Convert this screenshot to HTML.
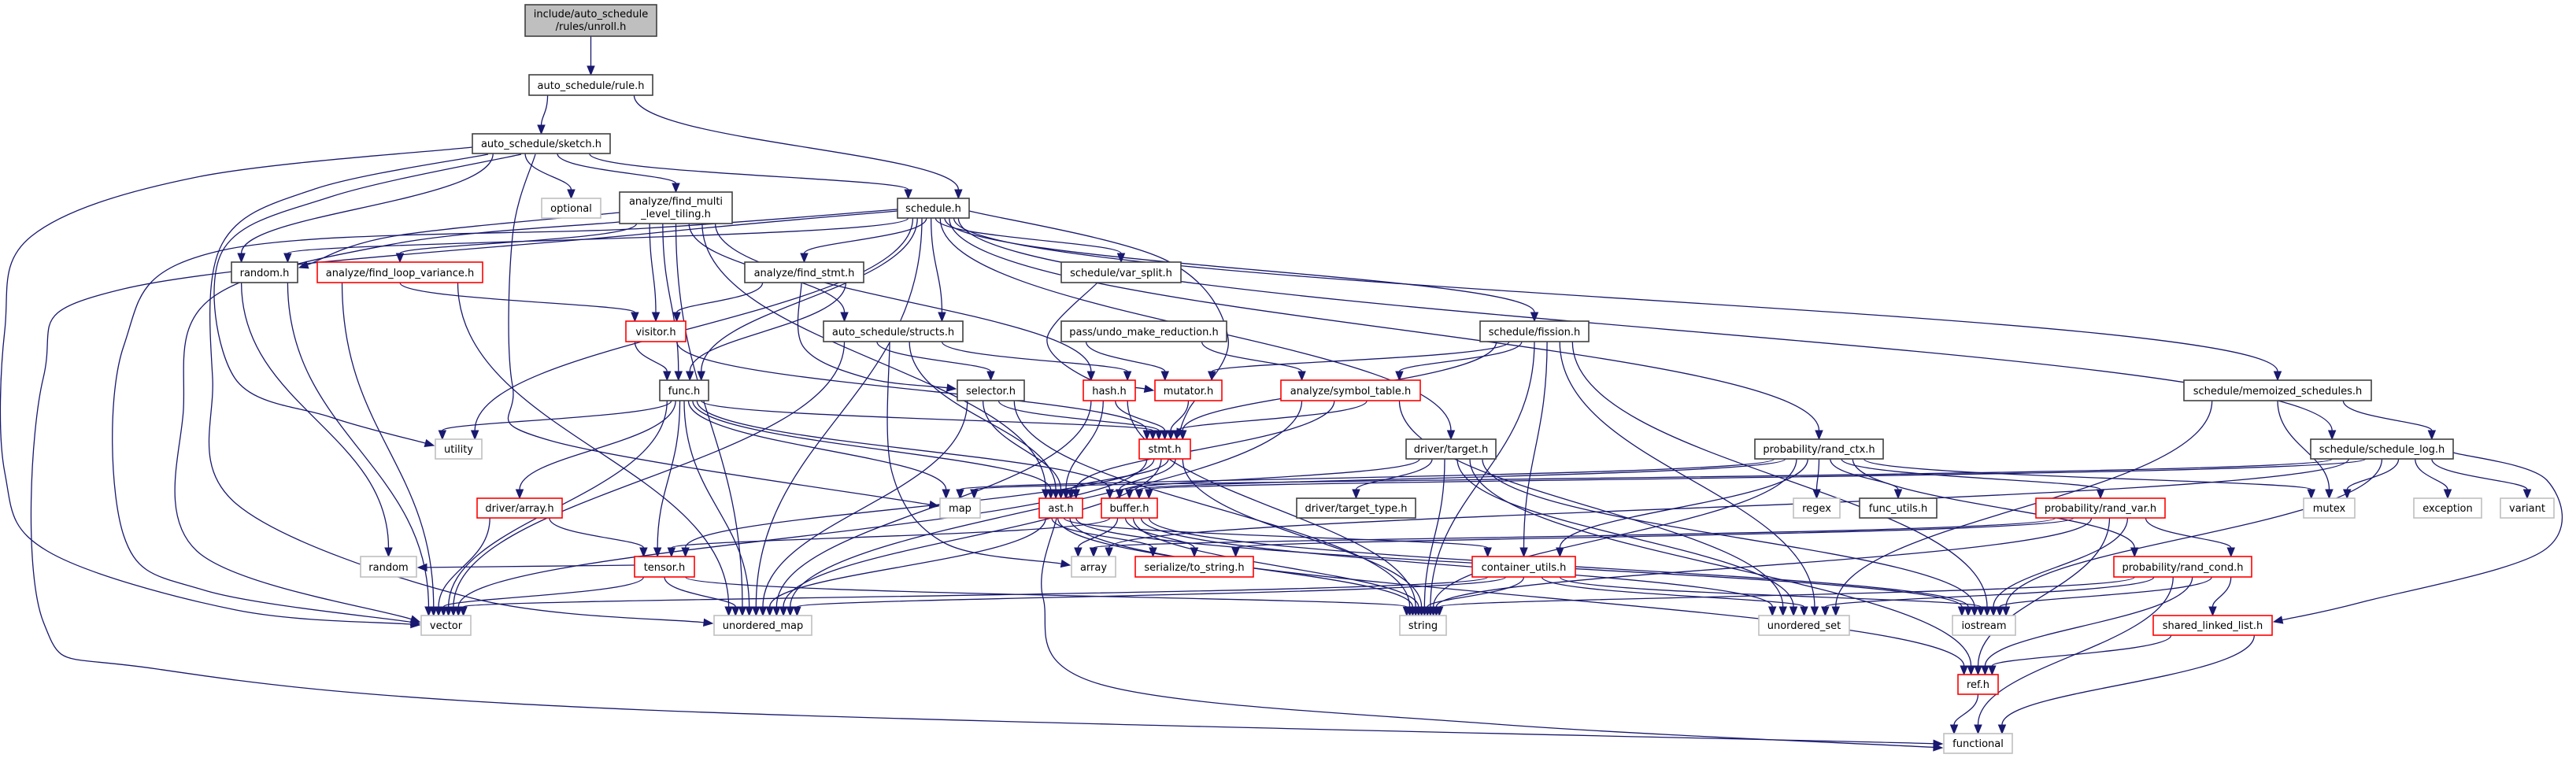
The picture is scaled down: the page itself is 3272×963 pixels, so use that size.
<!DOCTYPE html>
<html><head><meta charset="utf-8">
<style>
html,body{margin:0;padding:0;background:#fff;}
svg{display:block;}
text{font-family:"DejaVu Sans","Liberation Sans",sans-serif;font-size:13px;fill:#000;}
</style></head>
<body>
<svg id="g" width="3272" height="963" viewBox="0 0 3272 963" xmlns="http://www.w3.org/2000/svg">
<g id="edges"></g>
<g id="nodes" stroke-width="1.6">
<rect x="667" y="6" width="167" height="40" fill="#bfbfbf" stroke="#404040"/>
<text x="750.5" y="22" text-anchor="middle">include/auto_schedule</text>
<text x="750.5" y="38" text-anchor="middle">/rules/unroll.h</text>
<rect x="672" y="95" width="157" height="26" fill="#fff" stroke="#404040"/><text x="750.5" y="113" text-anchor="middle">auto_schedule/rule.h</text>
<rect x="600" y="170" width="175" height="25" fill="#fff" stroke="#404040"/><text x="687.5" y="187" text-anchor="middle">auto_schedule/sketch.h</text>
<rect x="688" y="252" width="75" height="25" fill="#fff" stroke="#bfbfbf"/><text x="725.5" y="269" text-anchor="middle">optional</text>
<rect x="787" y="244" width="143" height="40" fill="#fff" stroke="#404040"/>
<text x="858.5" y="260" text-anchor="middle">analyze/find_multi</text>
<text x="858.5" y="276" text-anchor="middle">_level_tiling.h</text>
<rect x="1140" y="252" width="91" height="25" fill="#fff" stroke="#404040"/><text x="1185.5" y="269" text-anchor="middle">schedule.h</text>
<rect x="294" y="333" width="84" height="26" fill="#fff" stroke="#404040"/><text x="336" y="351" text-anchor="middle">random.h</text>
<rect x="403" y="333" width="210" height="26" fill="#fff" stroke="#ff0000"/><text x="508" y="351" text-anchor="middle">analyze/find_loop_variance.h</text>
<rect x="946" y="333" width="151" height="26" fill="#fff" stroke="#404040"/><text x="1021.5" y="351" text-anchor="middle">analyze/find_stmt.h</text>
<rect x="1348" y="333" width="152" height="26" fill="#fff" stroke="#404040"/><text x="1424" y="351" text-anchor="middle">schedule/var_split.h</text>
<rect x="795" y="408" width="76" height="26" fill="#fff" stroke="#ff0000"/><text x="833" y="426" text-anchor="middle">visitor.h</text>
<rect x="1046" y="408" width="177" height="26" fill="#fff" stroke="#404040"/><text x="1134.5" y="426" text-anchor="middle">auto_schedule/structs.h</text>
<rect x="1348" y="408" width="210" height="26" fill="#fff" stroke="#404040"/><text x="1453" y="426" text-anchor="middle">pass/undo_make_reduction.h</text>
<rect x="1880" y="408" width="138" height="26" fill="#fff" stroke="#404040"/><text x="1949" y="426" text-anchor="middle">schedule/fission.h</text>
<rect x="2774" y="483" width="238" height="26" fill="#fff" stroke="#404040"/><text x="2893" y="501" text-anchor="middle">schedule/memoized_schedules.h</text>
<rect x="838" y="483" width="62" height="26" fill="#fff" stroke="#404040"/><text x="869" y="501" text-anchor="middle">func.h</text>
<rect x="1216" y="483" width="85" height="26" fill="#fff" stroke="#404040"/><text x="1258.5" y="501" text-anchor="middle">selector.h</text>
<rect x="1376" y="483" width="66" height="26" fill="#fff" stroke="#ff0000"/><text x="1409" y="501" text-anchor="middle">hash.h</text>
<rect x="1467" y="483" width="85" height="26" fill="#fff" stroke="#ff0000"/><text x="1509.5" y="501" text-anchor="middle">mutator.h</text>
<rect x="1627" y="483" width="177" height="26" fill="#fff" stroke="#ff0000"/><text x="1715.5" y="501" text-anchor="middle">analyze/symbol_table.h</text>
<rect x="553" y="558" width="59" height="25" fill="#fff" stroke="#bfbfbf"/><text x="582.5" y="575" text-anchor="middle">utility</text>
<rect x="1447" y="558" width="65" height="25" fill="#fff" stroke="#ff0000"/><text x="1479.5" y="575" text-anchor="middle">stmt.h</text>
<rect x="1786" y="558" width="114" height="25" fill="#fff" stroke="#404040"/><text x="1843" y="575" text-anchor="middle">driver/target.h</text>
<rect x="2229" y="558" width="163" height="25" fill="#fff" stroke="#404040"/><text x="2310.5" y="575" text-anchor="middle">probability/rand_ctx.h</text>
<rect x="2935" y="558" width="181" height="25" fill="#fff" stroke="#404040"/><text x="3025.5" y="575" text-anchor="middle">schedule/schedule_log.h</text>
<rect x="606" y="633" width="108" height="25" fill="#fff" stroke="#ff0000"/><text x="660" y="650" text-anchor="middle">driver/array.h</text>
<rect x="1194" y="633" width="51" height="25" fill="#fff" stroke="#bfbfbf"/><text x="1219.5" y="650" text-anchor="middle">map</text>
<rect x="1320" y="633" width="55" height="25" fill="#fff" stroke="#ff0000"/><text x="1347.5" y="650" text-anchor="middle">ast.h</text>
<rect x="1399" y="633" width="71" height="25" fill="#fff" stroke="#ff0000"/><text x="1434.5" y="650" text-anchor="middle">buffer.h</text>
<rect x="1647" y="633" width="151" height="25" fill="#fff" stroke="#404040"/><text x="1722.5" y="650" text-anchor="middle">driver/target_type.h</text>
<rect x="2278" y="633" width="59" height="25" fill="#fff" stroke="#bfbfbf"/><text x="2307.5" y="650" text-anchor="middle">regex</text>
<rect x="2362" y="633" width="98" height="25" fill="#fff" stroke="#404040"/><text x="2411" y="650" text-anchor="middle">func_utils.h</text>
<rect x="2586" y="633" width="164" height="25" fill="#fff" stroke="#ff0000"/><text x="2668" y="650" text-anchor="middle">probability/rand_var.h</text>
<rect x="2926" y="633" width="65" height="25" fill="#fff" stroke="#bfbfbf"/><text x="2958.5" y="650" text-anchor="middle">mutex</text>
<rect x="3066" y="633" width="86" height="25" fill="#fff" stroke="#bfbfbf"/><text x="3109" y="650" text-anchor="middle">exception</text>
<rect x="3176" y="633" width="68" height="25" fill="#fff" stroke="#bfbfbf"/><text x="3210" y="650" text-anchor="middle">variant</text>
<rect x="458" y="707" width="71" height="26" fill="#fff" stroke="#bfbfbf"/><text x="493.5" y="725" text-anchor="middle">random</text>
<rect x="806" y="707" width="76" height="26" fill="#fff" stroke="#ff0000"/><text x="844" y="725" text-anchor="middle">tensor.h</text>
<rect x="1361" y="707" width="56" height="26" fill="#fff" stroke="#bfbfbf"/><text x="1389" y="725" text-anchor="middle">array</text>
<rect x="1442" y="707" width="150" height="26" fill="#fff" stroke="#ff0000"/><text x="1517" y="725" text-anchor="middle">serialize/to_string.h</text>
<rect x="1870" y="707" width="131" height="26" fill="#fff" stroke="#ff0000"/><text x="1935.5" y="725" text-anchor="middle">container_utils.h</text>
<rect x="2685" y="707" width="175" height="26" fill="#fff" stroke="#ff0000"/><text x="2772.5" y="725" text-anchor="middle">probability/rand_cond.h</text>
<rect x="535" y="782" width="63" height="25" fill="#fff" stroke="#bfbfbf"/><text x="566.5" y="799" text-anchor="middle">vector</text>
<rect x="907" y="782" width="124" height="25" fill="#fff" stroke="#bfbfbf"/><text x="969" y="799" text-anchor="middle">unordered_map</text>
<rect x="1778" y="782" width="59" height="25" fill="#fff" stroke="#bfbfbf"/><text x="1807.5" y="799" text-anchor="middle">string</text>
<rect x="2234" y="782" width="115" height="25" fill="#fff" stroke="#bfbfbf"/><text x="2291.5" y="799" text-anchor="middle">unordered_set</text>
<rect x="2480" y="782" width="80" height="25" fill="#fff" stroke="#bfbfbf"/><text x="2520" y="799" text-anchor="middle">iostream</text>
<rect x="2735" y="782" width="151" height="25" fill="#fff" stroke="#ff0000"/><text x="2810.5" y="799" text-anchor="middle">shared_linked_list.h</text>
<rect x="2487" y="857" width="51" height="25" fill="#fff" stroke="#ff0000"/><text x="2512.5" y="874" text-anchor="middle">ref.h</text>
<rect x="2469" y="932" width="87" height="25" fill="#fff" stroke="#bfbfbf"/><text x="2512.5" y="949" text-anchor="middle">functional</text>
</g>
</svg>
<script>
var N={
root:[667,6,834,46],rule:[672,95,829,121],sketch:[600,170,775,195],optional:[688,252,763,277],
multi:[787,244,930,284],schedule:[1140,252,1231,277],randomh:[294,333,378,359],loopvar:[403,333,613,359],
findstmt:[946,333,1097,359],varsplit:[1348,333,1500,359],visitor:[795,408,871,434],structs:[1046,408,1223,434],
undo:[1348,408,1558,434],fission:[1880,408,2018,434],memo:[2774,483,3012,509],func:[838,483,900,509],
selector:[1216,483,1301,509],hash:[1376,483,1442,509],mutator:[1467,483,1552,509],symtab:[1627,483,1804,509],
utility:[553,558,612,583],stmt:[1447,558,1512,583],target:[1786,558,1900,583],randctx:[2229,558,2392,583],
slog:[2935,558,3116,583],darray:[606,633,714,658],map:[1194,633,1245,658],ast:[1320,633,1375,658],
buffer:[1399,633,1470,658],ttype:[1647,633,1798,658],regex:[2278,633,2337,658],futils:[2362,633,2460,658],
randvar:[2586,633,2750,658],mutex:[2926,633,2991,658],exception:[3066,633,3152,658],variant:[3176,633,3244,658],
random:[458,707,529,733],tensor:[806,707,882,733],array:[1361,707,1417,733],tostr:[1442,707,1592,733],
cutils:[1870,707,2001,733],randcond:[2685,707,2860,733],vector:[535,782,598,807],umap:[907,782,1031,807],
string:[1778,782,1837,807],uset:[2234,782,2349,807],iostream:[2480,782,2560,807],sll:[2735,782,2886,807],
ref:[2487,857,2538,882],functional:[2469,932,2556,957]};
var E=[
['root','rule'],['rule','sketch'],['rule','schedule'],
['sketch','optional'],['sketch','multi'],['sketch','schedule'],['sketch','randomh'],
['sketch','vector',[[600,187],[250,225],[40,300],[6,420],[6,600],[60,700],[300,775],[533,794]]],
['sketch','utility',[[662,196],[420,250],[282,320],[298,480],[420,530],[551,566]]],
['sketch','map',[[680,196],[651,300],[651,490],[700,560],[1192,643]]],
['sketch','umap',[[620,196],[400,240],[282,310],[270,480],[300,640],[600,760],[905,792]]],
['multi','randomh',[[787,270],[500,300],[380,340]]],['multi','loopvar'],['multi','visitor'],['multi','structs'],['multi','hash'],['multi','ast'],
['multi','vector',[[787,282],[500,310],[267,380],[233,520],[250,700],[533,790]]],['multi','umap'],['multi','func'],
['schedule','findstmt'],['schedule','varsplit'],['schedule','structs'],['schedule','func'],['schedule','randomh'],
['schedule','vector',[[1140,266],[820,290],[282,318],[157,440],[157,680],[260,750],[533,792]]],
['schedule','functional',[[1140,268],[820,297],[157,367],[55,480],[55,790],[200,850],[820,902],[2467,945]]],
['schedule','umap'],['schedule','fission'],['schedule','memo'],['schedule','slog'],
['schedule','randctx'],['schedule','target'],['schedule','stmt',[[1231,268],[1480,330],[1560,430],[1510,520],[1495,556]]],['schedule','utility'],
['loopvar','visitor'],['loopvar','vector'],['loopvar','umap'],
['randomh','vector'],['randomh','random'],
['findstmt','visitor'],['findstmt','func'],['findstmt','selector',[[1018,359],[1020,440],[1100,480],[1214,494]]],
['varsplit','mutator',[[1394,359],[1330,430],[1380,480],[1465,496]]],['undo','mutator'],['undo','symtab'],
['visitor','func'],['visitor','stmt'],
['structs','ast'],['structs','hash'],['structs','vector'],['structs','array',[[1130,434],[1133,600],[1200,690],[1359,718]]],['structs','selector'],
['func','utility'],['func','vector'],['func','umap'],['func','darray'],['func','tensor'],['func','stmt'],['func','ast'],
['func','buffer'],['func','map'],
['selector','stmt'],['selector','ast'],['selector','umap'],['selector','string'],
['hash','stmt'],['hash','ast'],['hash','umap'],['hash','string'],['mutator','stmt'],
['symtab','stmt'],['symtab','umap'],['symtab','uset'],['symtab','ast'],
['fission','symtab'],['fission','mutator'],['fission','stmt'],['fission','cutils'],['fission','string'],['fission','uset'],['fission','iostream'],
['memo','slog'],['memo','mutex'],['memo','uset'],
['slog','mutex'],['slog','exception'],['slog','variant'],['slog','sll',[[3116,575],[3235,610],[3230,700],[3000,765],[2888,790]]],['slog','iostream'],['slog','map'],['slog','buffer'],['slog','array'],
['target','ttype'],['target','string'],['target','buffer'],['target','ref'],['target','iostream'],['target','uset'],
['randctx','regex'],['randctx','futils'],['randctx','randvar'],['randctx','randcond'],['randctx','cutils'],['randctx','string'],
['randctx','mutex'],['randctx','map'],['randctx','buffer'],
['stmt','ast'],['stmt','buffer'],['stmt','vector'],['stmt','umap'],['stmt','string'],['stmt','tensor'],
['ast','tostr'],['ast','string'],['ast','umap'],['ast','ref'],['ast','functional',[[1342,658],[1325,760],[1400,870],[1900,920],[2467,950]]],['ast','iostream'],['ast','cutils'],
['buffer','tensor'],['buffer','array'],['buffer','tostr'],['buffer','string'],['buffer','iostream'],['buffer','uset'],
['darray','vector'],['darray','tensor'],
['tensor','vector'],['tensor','umap'],['tensor','string'],['tensor','random',[[806,718],[531,721]]],
['cutils','string'],['cutils','uset'],['cutils','iostream'],['cutils','vector'],['cutils','umap'],
['randvar','randcond'],['randvar','iostream'],['randvar','ref'],['randvar','string'],['randvar','tostr'],['randvar','array'],
['randcond','iostream'],['randcond','sll'],['randcond','functional'],['randcond','ref'],['randcond','string'],['randcond','uset'],
['sll','ref'],['sll','functional'],['ref','functional']
];
var outs={},ins={};
E.forEach(function(e){if(e[2])return;(outs[e[0]]=outs[e[0]]||[]).push(e);(ins[e[1]]=ins[e[1]]||[]).push(e);});
function cx(n){return (N[n][0]+N[n][2])/2;}
function spread(list,key,box,other){
  list.sort(function(a,b){return cx(a[other])-cx(b[other]);});
  var w=(box[2]-box[0])*0.7,k=list.length;
  list.forEach(function(e,i){e[key]=k>1?(box[0]+box[2])/2-w/2+w*i/(k-1):(box[0]+box[2])/2;});
}
for(var s in outs)spread(outs[s],'sx',N[s],1);
for(var t in ins)spread(ins[t],'tx',N[t],0);
var ns='http://www.w3.org/2000/svg',G=document.getElementById('edges'),C='#191970';
function arrow(tx,ty,px,py){
  var dx=tx-px,dy=ty-py,L=Math.sqrt(dx*dx+dy*dy)||1;dx/=L;dy/=L;
  var al=11,aw=4.5,ex=tx-dx*al,ey=ty-dy*al;
  var q=document.createElementNS(ns,'polygon');
  q.setAttribute('points',tx+','+ty+' '+(ex-dy*aw)+','+(ey+dx*aw)+' '+(ex+dy*aw)+','+(ey-dx*aw));
  q.setAttribute('fill',C);q.setAttribute('stroke',C);G.appendChild(q);
  return [ex,ey];
}
function addPath(d){
  var p=document.createElementNS(ns,'path');
  p.setAttribute('d',d);p.setAttribute('fill','none');p.setAttribute('stroke',C);p.setAttribute('stroke-width','1.3');
  G.appendChild(p);
}
E.forEach(function(e){
  if(e[2]){
    var P=e[2].map(function(p){return p.slice();});
    var n=P.length,T=P[n-1],Q=P[n-2];
    var end=arrow(T[0],T[1],Q[0],Q[1]);P[n-1]=end;
    var d='M'+P[0][0]+','+P[0][1];
    for(var i=0;i<n-1;i++){
      var p0=P[i>0?i-1:0],p1=P[i],p2=P[i+1],p3=P[i+2<n?i+2:n-1];
      var c1=[p1[0]+(p2[0]-p0[0])/6,p1[1]+(p2[1]-p0[1])/6];
      var c2=[p2[0]-(p3[0]-p1[0])/6,p2[1]-(p3[1]-p1[1])/6];
      d+=' C'+c1[0]+','+c1[1]+' '+c2[0]+','+c2[1]+' '+p2[0]+','+p2[1];
    }
    addPath(d);return;
  }
  var a=N[e[0]],b=N[e[1]],sx,sy,tx,ty,c1,c2;
  var same=Math.abs((a[1]+a[3])/2-(b[1]+b[3])/2)<15;
  if(same){
    var right=b[0]>a[2];
    sx=right?a[2]:a[0];sy=(a[1]+a[3])/2;
    tx=right?b[0]:b[2];ty=(b[1]+b[3])/2;
    c1=[sx+(tx-sx)/3,sy+4];c2=[tx-(tx-sx)/3,ty+4];
  }else if(b[1]>=a[3]){
    sx=e.sx;sy=a[3];tx=e.tx;ty=b[1];
    var h=ty-sy;c1=[sx,sy+h*0.45];c2=[tx,ty-h*0.45];
  }else{
    sx=e.sx;sy=a[1];tx=e.tx;ty=b[3];
    var h2=sy-ty;c1=[sx,sy-h2*0.45];c2=[tx,ty+h2*0.45];
  }
  var en=arrow(tx,ty,c2[0],c2[1]);
  addPath('M'+sx+','+sy+' C'+c1[0]+','+c1[1]+' '+c2[0]+','+c2[1]+' '+en[0]+','+en[1]);
});
</script>
</body></html>
